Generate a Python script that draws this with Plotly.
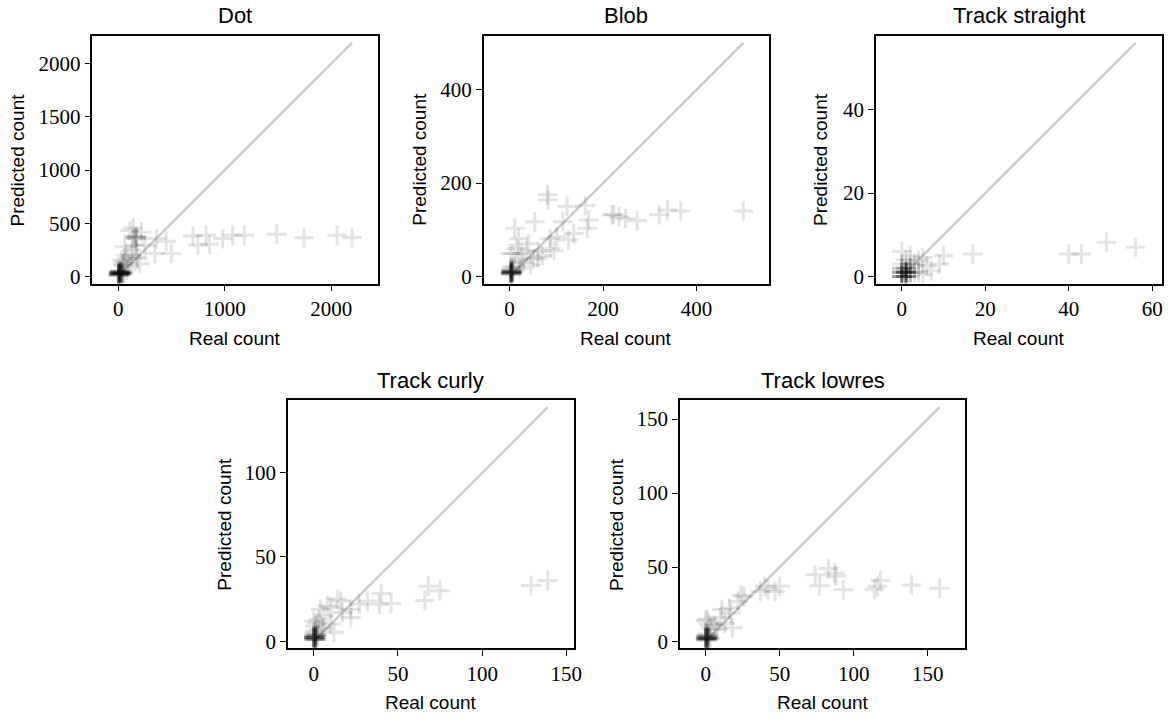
import plotly.graph_objects as go

# ---- data: real vs predicted counts per particle class ----
titles = ["Dot", "Blob", "Track straight", "Track curly", "Track lowres"]

dot_real = [0, 0, 1, 2, 3, 4, 5, 6, 8, 9, 10, 12, 14, 15, 16, 18, 20, 22, 24, 25, 28, 30, 33, 35, 40, 45, 50,
            30, 60, 100, 124, 171, 156, 62, 171, 140, 160, 175, 165, 249, 218, 140, 109, 80, 50, 200, 180, 90, 40, 130, 70,
            358, 451, 343, 498, 701, 825, 748, 857, 981, 1075, 1184, 1489, 1745, 2056, 2196]
dot_pred = [10, 30, 20, 40, 15, 35, 25, 50, 30, 12, 45, 22, 38, 28, 55, 18, 40, 33, 26, 48, 20, 36, 30, 44, 25, 38, 30,
            155, 140, 90, 201, 186, 294, 279, 356, 381, 370, 375, 360, 294, 419, 455, 430, 60, 100, 120, 170, 170, 120, 250, 200,
            356, 331, 217, 217, 381, 387, 294, 303, 356, 387, 387, 396, 363, 387, 366]

blob_real = [2, 3, 4, 4, 5, 3, 2, 6, 4, 5, 3, 7, 4, 2, 6, 5, 8, 1, 3, 4,
             2, 8, 26, 19, 11, 37, 51, 62, 87, 101, 87, 126, 137, 114, 54, 81, 82, 123, 162, 169,
             166, 223, 219, 234, 248, 273, 320, 338, 366, 500, 30, 45, 70, 20, 15, 40, 60, 95, 12, 22]
blob_pred = [8, 9, 10, 7, 9, 12, 6, 10, 8, 11, 7, 9, 12, 10, 6, 8, 14, 5, 15, 20,
             49, 49, 49, 81, 103, 56, 38, 53, 60, 85, 81, 78, 92, 117, 117, 175, 164, 150, 152, 121,
             103, 132, 132, 128, 124, 119, 132, 142, 140, 140, 30, 25, 45, 35, 60, 70, 40, 55, 22, 18]

straight_real = [0, 0, 0, 0, 1, 1, 1, 1, 1, 1, 0, 0, 1, 1, 2, 2, 0, 1, 2, 0, 1, 2, 1, 0, 0, 1,
                 0, 1, 2, 0, 3, 2, 3,
                 4, 4, 5, 6, 7, 9, 10, 17, 40, 43, 49, 56, 5]
straight_pred = [0, 1, 0, 1, 0, 1, 0, 1, 1, 2, 1, 2, 0, 1, 0, 1, 0, 1, 1, 2, 2, 2, 0, 1, 0, 1,
                 3, 4, 3, 6, 1, 5, 3,
                 3.8, 1, 4.5, 2.5, 1.4, 3, 5, 5.4, 5.4, 5.4, 8.2, 7, 0.5]

curly_real = [0, 0, 0, 1, 1, 1, 0, 1, 0, 1, 0, 1, 2, 0, 1, 0, 1, 2, 0, 2, 1, 0,
              139, 129, 68, 75, 66, 46, 40, 39, 32, 27, 22, 16, 10, 10, 12, 6, 3, 4, 8, 17, 22, 14, 5, 1, 2, 0, 3]
curly_pred = [2, 1, 3, 2, 1, 3, 2, 2, 1, 3, 2, 2, 1, 2, 1, 3, 4, 3, 5, 4, 6, 2,
              36, 33, 32.6, 30, 24.2, 22.5, 28.3, 21.9, 23.8, 21.9, 14, 23.8, 20, 10.2, 5.3, 15, 13, 19, 21, 17, 19, 25, 8, 9, 11, 12, 7]

lowres_real = [0, 0, 0, 1, 1, 1, 0, 1, 2, 0, 1, 2, 0, 1, 2, 0, 1, 0, 1, 2, 3, 1,
               158, 139, 118, 114, 116, 93, 87, 83, 88, 74, 77, 50, 47, 40, 37, 42, 26, 22, 24, 16, 11, 17, 18, 13, 8, 6, 10,
               0, 1, 2, 4, 3]
lowres_pred = [2, 1, 3, 2, 1, 3, 2, 2, 2, 1, 3, 3, 2, 2, 1, 3, 2, 4, 5, 4, 2, 1,
               35.8, 38, 41, 35, 37, 34.7, 46, 49, 44, 44.8, 37.4, 37, 33.6, 37, 33.6, 35, 30, 27, 31, 22.4, 21.3, 19, 9, 12, 8, 11, 16,
               14, 15, 12, 8, 10]

# ---- layout geometry (pixels) ----
W, H = 1174, 719
# (left, right, top, bottom) of each axes box
boxes = [
    (93, 380.5, 36, 285.5),
    (487, 774.5, 36, 285.5),
    (882, 1169.5, 36, 285.5),
    (290, 577.5, 403, 652.7),
    (684.5, 972, 403, 652.7),
]
ticksteps = [(1000, 500), (200, 200), (20, 20), (50, 50), (50, 50)]
ylabel_x = [18, 423, 826, 226, 620]

panels = [
    (dot_real, dot_pred),
    (blob_real, blob_pred),
    (straight_real, straight_pred),
    (curly_real, curly_pred),
    (lowres_real, lowres_pred),
]

TICK_FONT = dict(family="Liberation Serif, DejaVu Serif, serif", size=21, color="black")
LABEL_FONT = dict(family="Liberation Sans, Arial, sans-serif", size=19, color="black")
TITLE_FONT = dict(family="Liberation Sans, Arial, sans-serif", size=22, color="black")

fig = go.Figure()
annotations = []
layout_axes = {}

for i, ((real, pred), (l, r, t, b), (dx, dy), title, ylx) in enumerate(
        zip(panels, boxes, ticksteps, titles, ylabel_x)):
    n = "" if i == 0 else str(i + 1)
    xa, ya = "x" + n, "y" + n
    top = max(real)

    # identity line
    fig.add_trace(go.Scatter(
        x=[0, top], y=[0, top], mode="lines", xaxis=xa, yaxis=ya,
        line=dict(color="#cccccc", width=2.5), showlegend=False, hoverinfo="skip"))
    # points
    fig.add_trace(go.Scatter(
        x=real, y=pred, mode="markers", xaxis=xa, yaxis=ya, showlegend=False,
        marker=dict(symbol="cross-thin", size=14, color="black", opacity=0.1,
                    line=dict(width=3, color="black"))))

    # equal data aspect: y gets a small margin, x is centred on the data span
    pad = 0.03 * top
    y0, y1 = -pad, top + pad
    xspan = (y1 - y0) * (r - l) / (b - t)
    x0, x1 = top / 2 - xspan / 2, top / 2 + xspan / 2

    common = dict(showline=True, linecolor="black", linewidth=1.5, mirror=True,
                  ticks="outside", ticklen=6, tickwidth=1.4, tickcolor="black",
                  showgrid=False, zeroline=False, tickfont=TICK_FONT)
    layout_axes["xaxis" + n] = dict(common, domain=[l / W, r / W], anchor=ya,
                                    range=[x0, x1], tick0=0, dtick=dx)
    layout_axes["yaxis" + n] = dict(common, domain=[(H - b) / H, (H - t) / H], anchor=xa,
                                    range=[y0, y1], tick0=0, dtick=dy)

    cx = (l + r) / 2
    annotations.append(dict(text=title, x=cx / W, y=(H - (t - 20)) / H, xref="paper", yref="paper",
                            showarrow=False, font=TITLE_FONT, xanchor="center", yanchor="middle"))
    annotations.append(dict(text="Real count", x=cx / W, y=(H - (b + 55)) / H, xref="paper", yref="paper",
                            showarrow=False, font=LABEL_FONT, xanchor="center", yanchor="middle"))
    annotations.append(dict(text="Predicted count", x=ylx / W, y=(H - (t + b) / 2) / H,
                            xref="paper", yref="paper", showarrow=False, font=LABEL_FONT,
                            textangle=-90, xanchor="center", yanchor="middle"))

fig.update_layout(
    width=W, height=H, margin=dict(l=0, r=0, t=0, b=0),
    paper_bgcolor="white", plot_bgcolor="white",
    annotations=annotations, **layout_axes)

fig.write_html("out.html")
